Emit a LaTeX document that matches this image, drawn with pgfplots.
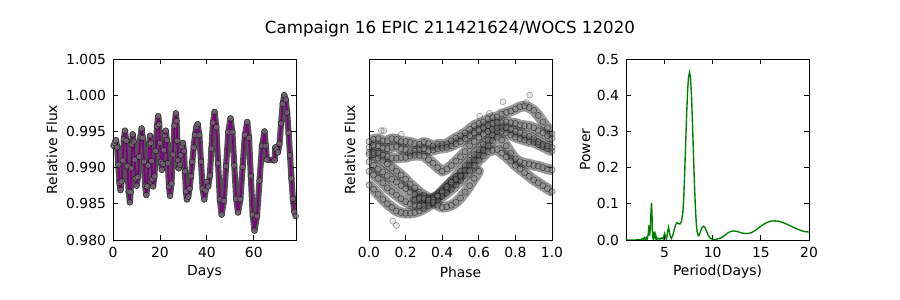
\documentclass[border=0pt]{standalone}
\usepackage{fontspec}
\setmainfont{DejaVu Sans}
\usepackage{pgfplots}
\usepackage{pgfplotstable}
\pgfplotsset{compat=1.18}
\definecolor{mplpurple}{RGB}{128,0,128}
\definecolor{mplgreen}{RGB}{0,128,0}

\pgfplotstableread{
t f
0.2 0.9930
0.48 0.9931
0.75 0.9934
1.03 0.9937
1.3 0.9938
1.78 0.9928
2.25 0.9904
2.73 0.9879
3.2 0.9869
3.68 0.9881
4.15 0.9910
4.63 0.9939
5.1 0.9951
5.63 0.9937
6.15 0.9902
6.68 0.9867
7.2 0.9852
7.5 0.9866
7.8 0.9899
8.1 0.9932
8.4 0.9946
8.83 0.9936
9.25 0.9911
9.68 0.9885
10.1 0.9875
10.63 0.9887
11.15 0.9915
11.68 0.9942
12.2 0.9954
12.7 0.9941
13.2 0.9908
13.7 0.9875
14.2 0.9862
14.6 0.9874
15.0 0.9903
15.4 0.9932
15.8 0.9944
16.13 0.9934
16.45 0.9909
16.78 0.9884
17.1 0.9874
17.65 0.9888
18.2 0.9923
18.75 0.9957
19.3 0.9971
19.68 0.9960
20.05 0.9934
20.43 0.9908
20.8 0.9897
21.23 0.9905
21.65 0.9924
22.08 0.9943
22.5 0.9951
22.95 0.9938
23.4 0.9906
23.85 0.9874
24.3 0.9861
24.93 0.9878
25.55 0.9918
26.18 0.9958
26.8 0.9975
27.1 0.9964
27.4 0.9937
27.7 0.9910
28.0 0.9899
28.45 0.9904
28.9 0.9917
29.35 0.9929
29.8 0.9934
30.23 0.9923
30.65 0.9895
31.08 0.9867
31.5 0.9856
32.08 0.9860
32.65 0.9871
33.23 0.9888
33.8 0.9908
34.38 0.9928
34.95 0.9945
35.53 0.9956
36.1 0.9960
36.8 0.9945
37.5 0.9908
38.2 0.9871
38.9 0.9856
39.45 0.9868
40.0 0.9880
40.6 0.9874
41.28 0.9889
41.95 0.9926
42.63 0.9962
43.3 0.9977
44.05 0.9956
44.8 0.9906
45.55 0.9856
46.3 0.9835
47.25 0.9854
48.2 0.9902
49.15 0.9949
50.1 0.9968
50.9 0.9949
51.7 0.9903
52.5 0.9857
53.3 0.9838
54.28 0.9856
55.25 0.9901
56.23 0.9945
57.2 0.9963
57.98 0.9941
58.75 0.9888
59.53 0.9835
60.3 0.9813
61.38 0.9833
62.45 0.9882
63.53 0.9930
64.6 0.9950
65.1 0.9930
65.6 0.9911
68.9 0.9910
69.2 0.9928
69.75 0.9925
70.3 0.9921
70.98 0.9933
71.65 0.9961
72.33 0.9988
73.0 1.0000
73.61 0.9994
74.23 0.9976
74.84 0.9948
75.45 0.9917
76.06 0.9885
76.68 0.9857
77.29 0.9839
77.9 0.9833
}\lightcurve

\pgfplotstableread{
p v
0.000 0.9936
0.025 0.9939
0.050 0.9940
0.075 0.9937
0.100 0.9937
0.125 0.9940
0.150 0.9939
0.175 0.9936
0.200 0.9936
0.225 0.9935
0.250 0.9933
0.275 0.9932
0.300 0.9935
0.325 0.9933
0.350 0.9930
0.375 0.9932
0.400 0.9932
0.425 0.9933
0.450 0.9937
0.475 0.9941
0.500 0.9944
0.525 0.9948
0.550 0.9953
0.575 0.9958
0.600 0.9961
0.625 0.9963
0.650 0.9967
0.675 0.9969
0.700 0.9970
0.725 0.9974
0.750 0.9976
0.775 0.9978
0.800 0.9981
0.825 0.9984
0.850 0.9985
0.875 0.9983
0.900 0.9979
0.925 0.9972
0.950 0.9963
0.975 0.9955
1.000 0.9947
}\trA
\pgfplotstableread{
p v
0.000 0.9928
0.025 0.9931
0.050 0.9930
0.075 0.9927
0.100 0.9926
0.125 0.9928
0.150 0.9929
0.175 0.9926
0.200 0.9925
0.225 0.9922
0.250 0.9923
0.275 0.9925
0.300 0.9926
0.325 0.9923
0.350 0.9924
0.375 0.9926
0.400 0.9927
0.425 0.9928
0.450 0.9930
0.475 0.9933
0.500 0.9936
0.525 0.9940
0.550 0.9944
0.575 0.9948
0.600 0.9952
0.625 0.9955
0.650 0.9958
0.675 0.9961
0.700 0.9962
0.725 0.9962
0.750 0.9963
0.775 0.9962
0.800 0.9961
0.825 0.9959
0.850 0.9958
0.875 0.9957
0.900 0.9955
0.925 0.9951
0.950 0.9948
0.975 0.9944
1.000 0.9940
}\trB
\pgfplotstableread{
p v
0.000 0.9921
0.025 0.9918
0.050 0.9913
0.075 0.9910
0.100 0.9905
0.125 0.9900
0.150 0.9895
0.175 0.9890
0.200 0.9884
0.225 0.9877
0.250 0.9872
0.275 0.9866
0.300 0.9862
0.325 0.9858
0.350 0.9857
0.375 0.9860
0.400 0.9866
0.425 0.9873
0.450 0.9880
0.475 0.9888
0.500 0.9895
0.525 0.9903
0.550 0.9910
0.575 0.9918
0.600 0.9925
0.625 0.9932
0.650 0.9938
0.675 0.9945
0.700 0.9950
0.725 0.9950
0.750 0.9948
0.775 0.9945
0.800 0.9942
0.825 0.9940
0.850 0.9938
0.875 0.9936
0.900 0.9935
0.925 0.9932
0.950 0.9929
0.975 0.9926
1.000 0.9923
}\trC
\pgfplotstableread{
p v
0.000 0.9908
0.025 0.9903
0.050 0.9898
0.075 0.9894
0.100 0.9889
0.125 0.9884
0.150 0.9880
0.175 0.9875
0.200 0.9871
0.225 0.9866
0.250 0.9863
0.275 0.9859
0.300 0.9856
0.325 0.9856
0.350 0.9858
0.375 0.9861
0.400 0.9865
0.425 0.9870
0.450 0.9876
0.475 0.9882
0.500 0.9889
0.525 0.9896
0.550 0.9903
0.575 0.9910
0.600 0.9917
0.625 0.9924
0.650 0.9930
0.675 0.9937
0.700 0.9942
0.725 0.9938
0.750 0.9930
0.775 0.9920
0.800 0.9912
0.825 0.9908
0.850 0.9906
0.875 0.9905
0.900 0.9903
0.925 0.9902
0.950 0.9900
0.975 0.9898
1.000 0.9897
}\trD
\pgfplotstableread{
p v
0.000 0.9876
0.025 0.9870
0.050 0.9863
0.075 0.9856
0.100 0.9850
0.125 0.9845
0.150 0.9840
0.175 0.9838
0.200 0.9837
0.225 0.9837
0.250 0.9838
0.275 0.9840
0.300 0.9843
0.325 0.9847
0.350 0.9851
0.375 0.9855
0.400 0.9860
0.425 0.9865
0.450 0.9870
0.475 0.9876
0.500 0.9882
0.525 0.9889
0.550 0.9896
0.575 0.9903
0.600 0.9910
0.625 0.9916
0.650 0.9922
0.675 0.9924
0.700 0.9925
0.725 0.9920
0.750 0.9915
0.775 0.9909
0.800 0.9903
0.825 0.9898
0.850 0.9893
0.875 0.9888
0.900 0.9883
0.925 0.9879
0.950 0.9875
0.975 0.9871
1.000 0.9867
}\trE
\pgfplotstableread{
p v
0.000 0.9918
0.025 0.9921
0.050 0.9920
0.075 0.9917
0.100 0.9915
0.125 0.9913
0.150 0.9913
0.175 0.9914
0.200 0.9914
0.225 0.9916
0.250 0.9917
0.275 0.9917
0.300 0.9916
0.325 0.9911
0.350 0.9906
0.375 0.9900
0.400 0.9895
0.425 0.9898
0.450 0.9903
0.475 0.9909
0.500 0.9915
0.525 0.9922
0.550 0.9930
0.575 0.9936
0.600 0.9942
0.625 0.9946
0.650 0.9950
0.675 0.9953
0.700 0.9955
0.725 0.9956
0.750 0.9955
0.775 0.9953
0.800 0.9950
0.825 0.9948
0.850 0.9945
0.875 0.9943
0.900 0.9940
0.925 0.9936
0.950 0.9932
0.975 0.9930
1.000 0.9928
}\trG
\pgfplotstableread{
p v
0.000 0.9895
0.025 0.9890
0.050 0.9885
0.075 0.9879
0.100 0.9872
0.125 0.9867
0.150 0.9862
0.175 0.9857
0.200 0.9853
0.225 0.9850
0.250 0.9848
0.275 0.9847
0.300 0.9848
0.325 0.9851
0.350 0.9855
0.375 0.9861
0.400 0.9868
0.425 0.9874
0.450 0.9880
0.475 0.9884
0.500 0.9888
}\trH
\pgfplotstableread{
p v
0.250 0.9855
0.275 0.9857
0.300 0.9858
0.325 0.9855
0.350 0.9852
0.375 0.9848
0.400 0.9845
0.425 0.9846
0.450 0.9848
0.475 0.9852
0.500 0.9858
0.525 0.9866
0.550 0.9875
0.575 0.9885
0.600 0.9895
}\trF
\pgfplotstableread{
p v
0.067 0.9951
0.080 0.9951
0.177 0.9946
0.605 0.9971
0.659 0.9975
0.732 0.9991
0.860 0.9990
0.878 1.0000
0.150 0.9820
0.130 0.9826
}\trO

\pgfplotstableread{
P pw
1.0 0.000
1.5 0.000
2.0 0.000
2.3 0.001
2.5 0.000
2.7 0.004
2.8 0.000
2.9 0.006
3.0 0.001
3.1 0.007
3.2 0.002
3.3 0.015
3.38 0.040
3.45 0.012
3.52 0.030
3.6 0.080
3.65 0.103
3.7 0.070
3.76 0.010
3.82 0.003
3.88 0.022
3.93 0.005
3.98 0.024
4.03 0.004
4.1 0.012
4.2 0.002
4.35 0.005
4.5 0.002
4.7 0.006
4.85 0.003
5.0 0.018
5.1 0.010
5.2 0.002
5.3 0.020
5.42 0.035
5.55 0.015
5.7 0.004
5.85 0.012
6.0 0.028
6.15 0.042
6.3 0.048
6.45 0.045
6.6 0.044
6.75 0.050
6.9 0.075
7.0 0.120
7.1 0.190
7.2 0.270
7.3 0.350
7.4 0.415
7.5 0.452
7.6 0.463
7.7 0.448
7.8 0.400
7.9 0.325
8.0 0.240
8.1 0.160
8.2 0.092
8.3 0.045
8.4 0.020
8.5 0.012
8.6 0.014
8.75 0.025
8.9 0.035
9.05 0.038
9.2 0.034
9.35 0.025
9.5 0.015
9.7 0.006
9.9 0.003
10.1 0.001
10.4 0.002
10.7 0.004
11.0 0.008
11.3 0.014
11.6 0.020
11.9 0.024
12.2 0.025
12.5 0.024
12.8 0.021
13.1 0.019
13.4 0.018
13.7 0.018
14.0 0.020
14.4 0.026
14.8 0.034
15.2 0.042
15.6 0.048
16.0 0.052
16.4 0.053
16.8 0.052
17.2 0.049
17.6 0.045
18.0 0.040
18.4 0.035
18.8 0.030
19.2 0.026
19.6 0.023
20.0 0.022
}\pgram

\pgfplotsset{
  mpl/.style={
    scale only axis, width=131.76pt, height=130.32pt, anchor=south west,
    axis line style={line width=0.7pt},
    tick align=inside, major tick length=3.5pt,
    every tick/.style={black, line width=0.6pt},
    /pgf/number format/assume math mode=true,
    tick label style={font=\fontsize{10}{12}\selectfont},
    label style={font=\fontsize{10}{12}\selectfont},
    xticklabel style={yshift=-1.5pt},
    yticklabel style={xshift=-1.5pt},
    xlabel style={at={(axis description cs:0.5,-0.177)}, anchor=center},
    scaled ticks=false,
  },
}

\begin{document}
\begin{tikzpicture}
\path[use as bounding box] (0,0) rectangle (648pt,216pt);
\node[font=\fontsize{12}{14}\selectfont] at (324pt,195.1pt) {Campaign 16 EPIC 211421624/WOCS 12020};

% Panel 1
\begin{axis}[mpl, at={(81.36pt,43.2pt)},
  xmin=0, xmax=78, ymin=0.980, ymax=1.005,
  xtick={0,20,40,60}, ytick={0.980,0.985,0.990,0.995,1.000,1.005},
  yticklabel style={/pgf/number format/.cd, fixed, fixed zerofill, precision=3},
  xlabel={Days}, ylabel={Relative Flux},
  ylabel style={at={(axis description cs:-0.333,0.5)}, anchor=center},
]
\addplot[draw=black!85, line width=4.4pt, line join=round, line cap=round, opacity=0.8, no marks] table[x=t,y=f] {\lightcurve};
\addplot[only marks, mark=*, mark size=2.1pt, mark options={fill=gray, draw=black, fill opacity=0.6, draw opacity=0.6}] table[x=t,y=f] {\lightcurve};
\addplot[draw=mplpurple, line width=1.4pt, line join=round, no marks] table[x=t,y=f] {\lightcurve};
\end{axis}

% Panel 2
\begin{axis}[mpl, at={(265.68pt,43.2pt)},
  xmin=0, xmax=1, ymin=0.980, ymax=1.005,
  xtick={0,0.2,0.4,0.6,0.8,1.0}, ytick={0.980,0.985,0.990,0.995,1.000,1.005},
  yticklabels={},
  xticklabel style={/pgf/number format/.cd, fixed, fixed zerofill, precision=1},
  xlabel={Phase}, ylabel={Relative Flux},
  ylabel style={at={(axis description cs:-0.104,0.5)}, anchor=center},
]
\addplot[draw=black!80, opacity=0.5, line width=7.6pt, line join=round, line cap=round, mark=none] table[x=p,y=v] {\trA};
\addplot[draw=black!80, opacity=0.5, line width=7.6pt, line join=round, line cap=round, mark=none] table[x=p,y=v] {\trB};
\addplot[draw=black!80, opacity=0.5, line width=7.6pt, line join=round, line cap=round, mark=none] table[x=p,y=v] {\trC};
\addplot[draw=black!80, opacity=0.5, line width=7.6pt, line join=round, line cap=round, mark=none] table[x=p,y=v] {\trD};
\addplot[draw=black!80, opacity=0.5, line width=7.6pt, line join=round, line cap=round, mark=none] table[x=p,y=v] {\trE};
\addplot[draw=black!80, opacity=0.5, line width=7.6pt, line join=round, line cap=round, mark=none] table[x=p,y=v] {\trG};
\addplot[draw=black!80, opacity=0.5, line width=7.6pt, line join=round, line cap=round, mark=none] table[x=p,y=v] {\trH};
\addplot[draw=black!80, opacity=0.5, line width=7.6pt, line join=round, line cap=round, mark=none] table[x=p,y=v] {\trF};
\addplot[only marks, mark=*, mark size=2.2pt, mark options={fill=gray, draw=black, fill opacity=0.35, draw opacity=0.5}] table[x=p,y=v] {\trA};
\addplot[only marks, mark=*, mark size=2.2pt, mark options={fill=gray, draw=black, fill opacity=0.35, draw opacity=0.5}] table[x=p,y=v] {\trB};
\addplot[only marks, mark=*, mark size=2.2pt, mark options={fill=gray, draw=black, fill opacity=0.35, draw opacity=0.5}] table[x=p,y=v] {\trC};
\addplot[only marks, mark=*, mark size=2.2pt, mark options={fill=gray, draw=black, fill opacity=0.35, draw opacity=0.5}] table[x=p,y=v] {\trD};
\addplot[only marks, mark=*, mark size=2.2pt, mark options={fill=gray, draw=black, fill opacity=0.35, draw opacity=0.5}] table[x=p,y=v] {\trE};
\addplot[only marks, mark=*, mark size=2.2pt, mark options={fill=gray, draw=black, fill opacity=0.35, draw opacity=0.5}] table[x=p,y=v] {\trG};
\addplot[only marks, mark=*, mark size=2.2pt, mark options={fill=gray, draw=black, fill opacity=0.35, draw opacity=0.5}] table[x=p,y=v] {\trH};
\addplot[only marks, mark=*, mark size=2.2pt, mark options={fill=gray, draw=black, fill opacity=0.35, draw opacity=0.5}] table[x=p,y=v] {\trF};
\addplot[only marks, mark=*, mark size=2.2pt, mark options={fill=gray, draw=black, fill opacity=0.2, draw opacity=0.35}] table[x=p,y=v] {\trO};
\end{axis}

% Panel 3
\begin{axis}[mpl, at={(450.72pt,43.2pt)},
  xmin=1, xmax=20, ymin=0, ymax=0.5,
  xtick={5,10,15,20}, ytick={0,0.1,0.2,0.3,0.4,0.5},
  yticklabel style={/pgf/number format/.cd, fixed, fixed zerofill, precision=1},
  xlabel={Period(Days)}, ylabel={Power},
  ylabel style={at={(axis description cs:-0.223,0.5)}, anchor=center},
]
\addplot[draw=mplgreen, line width=1pt, no marks] table[x=P,y=pw] {\pgram};
\end{axis}
\end{tikzpicture}
\end{document}
